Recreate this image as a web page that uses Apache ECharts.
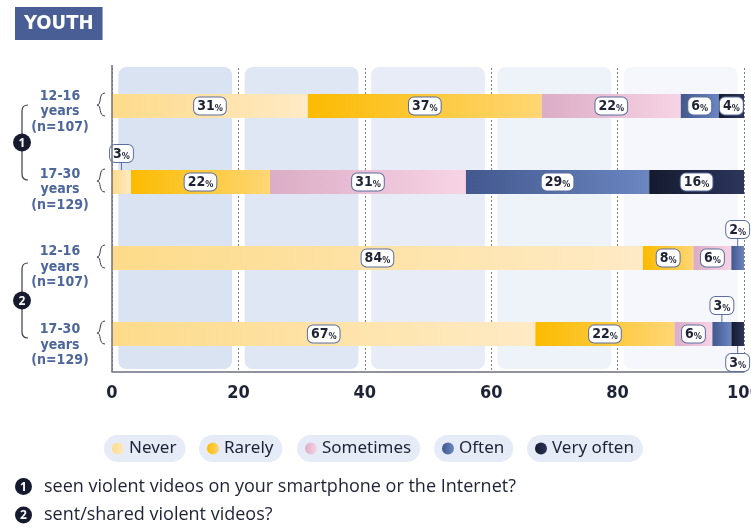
<!DOCTYPE html>
<html>
<head>
<meta charset="utf-8">
<script src="https://cdn.jsdelivr.net/npm/echarts@6/dist/echarts.min.js"></script>
<style>
  html, body { margin: 0; padding: 0; background: #fff; overflow: hidden; }
  #chart { width: 751px; height: 528px; }
</style>
</head>
<body>
<div id="chart"></div>
<script>
// ---- data ----
const questionNo = [1, 1, 2, 2];
const ageGroups = ['12-16', '17-30', '12-16', '17-30'];
const sampleSizes = [107, 129, 107, 129];
const seriesNames = ['Never', 'Rarely', 'Sometimes', 'Often', 'Very often'];
const never = [31, 3, 84, 67];
const rarely = [37, 22, 8, 22];
const sometimes = [22, 31, 6, 6];
const often = [6, 29, 2, 3];
const veryOften = [4, 16, 0, 3];
const xTicks = [0, 20, 40, 60, 80, 100];
const questions = [
  'seen violent videos on your smartphone or the Internet?',
  'sent/shared violent videos?'
];

// ---- styling ----
const seriesValues = [never, rarely, sometimes, often, veryOften];
const gradientStops = [
  ['#fddb8a', '#feeac5'],
  ['#fbbb00', '#fed674'],
  ['#dbadc6', '#f8d3e5'],
  ['#42588e', '#6b86c1'],
  ['#141a2e', '#2c365c']
];
// small segments whose value label sits outside the bar: "series-row" -> side
const calloutSide = { '0-1': 'top', '3-2': 'top', '3-3': 'top', '4-3': 'bottom' };
const panelColors = ['#d9e3f2', '#e0e7f4', '#e7ecf6', '#eef2f9', '#f5f7fc'];
const dark = '#1e2235';
const navy = '#4d669c';
const frame = '#5a6d9e';
const axisGray = '#6c6f80';
const condensed = '"DejaVu Sans Condensed", "DejaVu Sans", sans-serif';
const bodyFont = '"Noto Sans", "Open Sans", sans-serif';
const noteFont = '"Open Sans", "Noto Sans", sans-serif';

const categoryKeys = ageGroups.map((a, i) => `Q${questionNo[i]}|${a}|${sampleSizes[i]}`);
const GRID = { left: 112, right: 7, top: 68, height: 304 };
const CALLOUT_GAP = 8;
const labelDrop = [11, 15, 18, 22]; // spacer heights pushing the row captions down

const valueLabel = {
  show: true,
  position: 'inside',
  formatter: p => `{n|${p.value}}{p|%}`,
  backgroundColor: '#ffffff',
  borderColor: frame,
  borderWidth: 1,
  borderRadius: 5,
  padding: [2, 3, 1, 3],
  rich: {
    n: { fontFamily: condensed, fontWeight: 'bold', fontSize: 14, color: dark, lineHeight: 14 },
    p: { fontFamily: condensed, fontWeight: 'bold', fontSize: 9, color: dark, lineHeight: 14, verticalAlign: 'bottom' }
  }
};

const series = seriesNames.map((name, s) => ({
  name,
  type: 'bar',
  stack: 'total',
  barWidth: 24,
  itemStyle: {
    color: new echarts.graphic.LinearGradient(0, 0, 1, 0, [
      { offset: 0, color: gradientStops[s][0] },
      { offset: 1, color: gradientStops[s][1] }
    ])
  },
  label: valueLabel,
  emphasis: { disabled: true },
  data: seriesValues[s].map((v, r) => {
    const side = calloutSide[`${s}-${r}`];
    if (v === 0) return { value: v, label: { show: false } };
    if (side) return { value: v, label: { position: side, distance: CALLOUT_GAP } };
    return v;
  })
}));

const legendLefts = [104, 199, 297, 434, 527];
const legends = seriesNames.map((name, i) => ({
  data: [name],
  left: legendLefts[i],
  top: 435,
  orient: 'horizontal',
  icon: 'circle',
  itemWidth: 12,
  itemHeight: 12,
  backgroundColor: '#e6ecf7',
  borderRadius: 14,
  padding: [4, 9, 4, 8],
  selectedMode: false,
  textStyle: { fontFamily: bodyFont, fontSize: 17, color: dark, lineHeight: 19 }
}));

const captionRich = {
  a: { fontFamily: condensed, fontWeight: 'bold', fontSize: 14, color: navy, lineHeight: 15.5, align: 'center' }
};
labelDrop.forEach((h, i) => { captionRich['s' + i] = { lineHeight: h, fontSize: 1 }; });

const chart = echarts.init(document.getElementById('chart'), null, { renderer: 'canvas', width: 751, height: 528 });

const option = {
  animation: false,
  backgroundColor: '#ffffff',
  title: {
    text: 'YOUTH',
    left: 15,
    top: 7,
    backgroundColor: '#4a5e96',
    padding: [5, 9, 4, 9],
    textStyle: { color: '#ffffff', fontFamily: condensed, fontWeight: 'bold', fontSize: 20, lineHeight: 24 }
  },
  legend: legends,
  grid: Object.assign({ containLabel: false, outerBoundsMode: 'none' }, GRID),
  xAxis: {
    type: 'value',
    min: xTicks[0],
    max: xTicks[xTicks.length - 1],
    interval: xTicks[1] - xTicks[0],
    axisLine: { show: true, lineStyle: { color: axisGray, width: 1.5 } },
    axisTick: { show: false },
    axisLabel: { margin: 10, fontFamily: condensed, fontWeight: 'bold', fontSize: 18, lineHeight: 22, color: dark },
    splitLine: { show: true, lineStyle: { type: [2, 2], color: '#808080', width: 1 } }
  },
  yAxis: {
    type: 'category',
    inverse: true,
    data: categoryKeys,
    axisLine: { show: false },
    axisTick: { show: false },
    axisLabel: {
      margin: 52,
      align: 'center',
      formatter: (v, i) => {
        const [, age, n] = v.split('|');
        return `{s${i}|}\n{a|${age}}\n{a|years}\n{a|(n=${n})}`;
      },
      rich: captionRich
    }
  },
  series
};

chart.setOption(option);

// decorations placed from the chart's own coordinate system
function px(x, row) { return chart.convertToPixel({ gridIndex: 0 }, [x, categoryKeys[row]]); }

const graphics = [];
const top0 = GRID.top, bottom0 = GRID.top + GRID.height;
const halfBar = 12;

// rounded background panels between grid lines
for (let i = 0; i < 5; i++) {
  const x0 = px(xTicks[i] + 1, 0)[0];
  const x1 = px(xTicks[i + 1] - 1, 0)[0];
  graphics.push({
    type: 'rect', z: -10, silent: true,
    shape: { x: x0, y: top0 - 1, width: x1 - x0, height: bottom0 - top0 - 2, r: 8 },
    style: { fill: panelColors[i] }
  });
}

// left axis line, reaching slightly above the plot area
const x0px = px(xTicks[0], 0)[0];
graphics.push({
  type: 'line', z: 5, silent: true,
  shape: { x1: x0px, y1: top0 - 3, x2: x0px, y2: bottom0 },
  style: { stroke: axisGray, lineWidth: 1.5 }
});

// leader lines from outside value labels to their segments
Object.keys(calloutSide).forEach(key => {
  const [s, r] = key.split('-').map(Number);
  let start = 0;
  for (let k = 0; k < s; k++) start += seriesValues[k][r];
  const end = Math.min(start + seriesValues[s][r], xTicks[xTicks.length - 1]);
  const p = px((start + end) / 2, r);
  const up = calloutSide[key] === 'top';
  const y1 = up ? p[1] - halfBar : p[1] + halfBar;
  const y2 = up ? y1 - CALLOUT_GAP : y1 + CALLOUT_GAP;
  graphics.push({
    type: 'line', z: 20, silent: true,
    shape: { x1: p[0], y1, x2: p[0], y2 },
    style: { stroke: frame, lineWidth: 1 }
  });
});

// curly braces next to each bar
const braceStyle = { fill: null, stroke: '#3a3d4a', lineWidth: 1 };
categoryKeys.forEach((k, r) => {
  const c = px(0, r)[1] - 1;
  const t = c - 12, b = c + 11, xe = 105, xt = 97;
  graphics.push({
    type: 'bezierCurve', z: 10, silent: true,
    shape: { x1: xe, y1: t, cpx1: 98, cpy1: t, cpx2: 102, cpy2: c, x2: xt, y2: c },
    style: braceStyle
  });
  graphics.push({
    type: 'bezierCurve', z: 10, silent: true,
    shape: { x1: xt, y1: c, cpx1: 102, cpy1: c, cpx2: 98, cpy2: b, x2: xe, y2: b },
    style: braceStyle
  });
});

// group brackets with question numbers
const bracketOffsets = [[-1, -2], [5, 4]];
const bracketStyle = { fill: null, stroke: '#3a3d4a', lineWidth: 1.2 };
[0, 1].forEach(g => {
  const yTop = px(0, g * 2)[1] + bracketOffsets[g][0];
  const yBot = px(0, g * 2 + 1)[1] + bracketOffsets[g][1];
  const x = 22, xe = 28, mid = (yTop + yBot) / 2;
  graphics.push({
    type: 'bezierCurve', z: 10, silent: true,
    shape: { x1: xe, y1: yTop, cpx1: x, cpy1: yTop, x2: x, y2: yTop + 6 },
    style: bracketStyle
  });
  graphics.push({
    type: 'line', z: 10, silent: true,
    shape: { x1: x, y1: yTop + 6, x2: x, y2: yBot - 6 },
    style: bracketStyle
  });
  graphics.push({
    type: 'bezierCurve', z: 10, silent: true,
    shape: { x1: x, y1: yBot - 6, cpx1: x, cpy1: yBot, x2: xe, y2: yBot },
    style: bracketStyle
  });
  graphics.push({
    type: 'circle', z: 11, silent: true,
    shape: { cx: x, cy: mid, r: 9 },
    style: { fill: '#151a2e' }
  });
  graphics.push({
    type: 'text', z: 12, silent: true,
    style: { x: x, y: mid + 1, text: String(g + 1), fill: '#fff', font: `bold 12px ${bodyFont}`, textAlign: 'center', textVerticalAlign: 'middle' }
  });
});

// question footnotes
const noteRows = [486.5, 515];
questions.forEach((q, i) => {
  const cy = noteRows[i];
  graphics.push({ type: 'circle', silent: true, shape: { cx: 23.5, cy, r: 8.5 }, style: { fill: '#151a2e' } });
  graphics.push({
    type: 'text', silent: true,
    style: { x: 23.5, y: cy + 1, text: String(i + 1), fill: '#fff', font: `bold 12px ${bodyFont}`, textAlign: 'center', textVerticalAlign: 'middle' }
  });
  graphics.push({
    type: 'text', silent: true,
    style: { x: 44, y: cy, text: q, fill: dark, font: `18px ${noteFont}`, textAlign: 'left', textVerticalAlign: 'middle' }
  });
});

chart.setOption({ graphic: graphics });
</script>
</body>
</html>
